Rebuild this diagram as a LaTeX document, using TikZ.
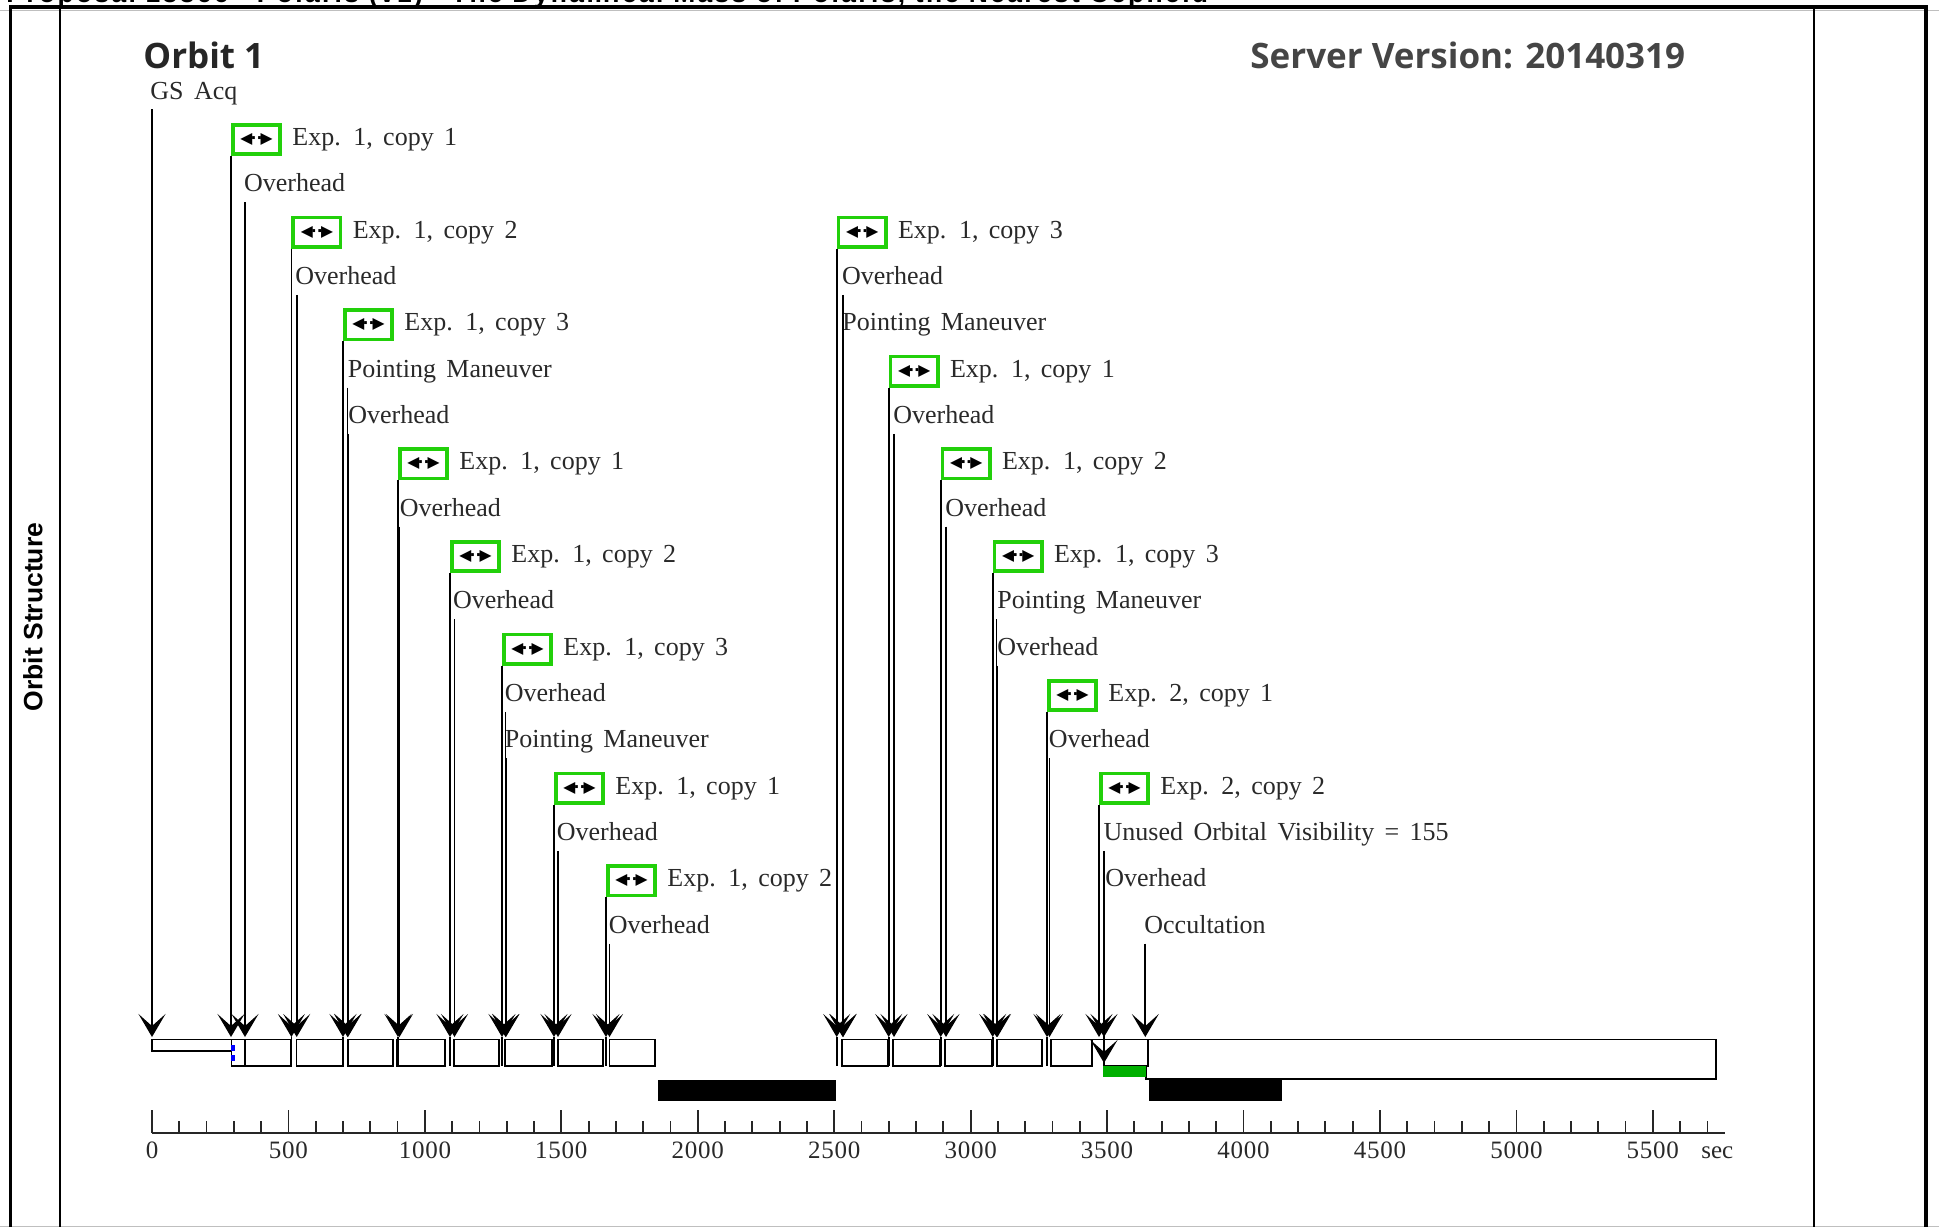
\documentclass[tikz,border=0pt]{standalone}
\usepackage{fontspec}
\setmainfont[WordSpace=1.6]{Liberation Serif}
\newfontfamily\headfont{Open Sans}
\newfontfamily\titlefont[LetterSpace=9]{Liberation Sans}
\newfontfamily\sidefont{Liberation Sans}
\newfontfamily\flagfont{DejaVu Sans}
\newfontfamily\tickfont[LetterSpace=3]{Liberation Serif}
\usetikzlibrary{arrows.meta, positioning}
\definecolor{flaggreen}{RGB}{34,208,10}
\definecolor{bargreen}{RGB}{0,176,0}
\definecolor{labelgray}{gray}{0.16}
\definecolor{headgray}{gray}{0.27}
\newcommand{\flagsym}{\flagfont\fontsize{7.8pt}{8pt}\selectfont\bfseries ◀\kern-.9pt··\kern-.9pt▶}
\begin{document}
\begin{tikzpicture}[
    x=0.5pt, y=-0.5pt,
    lbl/.style={inner sep=0pt, text depth=5pt, text=labelgray, font=\fontsize{13pt}{14pt}\selectfont},
    explbl/.style={lbl, text height=11pt},
    flag/.style={rectangle, draw=flaggreen, line width=1.8pt, inner sep=0pt, minimum width=23.7pt, minimum height=14.7pt, anchor=south west},
    evt/.style={-{Stealth[length=11.5pt,width=13.5pt,inset=6pt]}, line width=0.85pt},
    tlbox/.style={draw, line width=0.9pt},
    ticklbl/.style={inner sep=0pt, text=labelgray, font=\tickfont\fontsize{12.5pt}{13pt}\selectfont}
]
    \useasboundingbox (0,0) rectangle (1939,1227);
    \draw[gray!50] (0,10) -- (1939,10);
    \draw[gray!50] (0,1226.5) -- (1939,1226.5);
    \node[inner sep=0pt, anchor=base west, font=\titlefont\bfseries\fontsize{13.2pt}{14pt}\selectfont] (title) at (6,2) {Proposal 13366 - Polaris (v1) - The Dynamical Mass of Polaris, the Nearest Cepheid};
    \draw[line width=1.75pt] (10.5,1227) -- (10.5,7) -- (1926,7) -- (1926,1227);
    \draw[line width=1pt] (60,7) -- (60,1227);
    \draw[line width=1pt] (1814,7) -- (1814,1227);
    \node[rotate=90, inner sep=0pt, font=\sidefont\bfseries\fontsize{13.25pt}{14pt}\selectfont] (side) at (33,617) {Orbit Structure};
    \node[inner sep=0pt, anchor=base west, text=black!85, font=\headfont\bfseries\fontsize{17.5pt}{18pt}\selectfont] (orbit) at (143,68) {Orbit 1};
    \node[inner sep=0pt, anchor=base west, text=headgray, font=\headfont\bfseries\fontsize{17.5pt}{18pt}\selectfont] (server) at (1250,68) {Server Version: 20140319};

    \coordinate (tipline) at (0,1037);
    \coordinate (tlbottom) at (0,1065.7);

    % time line
    \draw[tlbox] (152,1039.5) rectangle (231.5,1051);
    \draw[tlbox] (231.5,1039.5) rectangle (245,1065.7);
    \draw[tlbox] (245,1039.5) rectangle (291,1065.7);
    \draw[tlbox] (296.5,1039.5) rectangle (343,1065.7);
    \draw[tlbox] (348,1039.5) rectangle (393,1065.7);
    \draw[tlbox] (397.1,1039.5) rectangle (444.9,1065.7);
    \draw[tlbox] (454.3,1039.5) rectangle (498.8,1065.7);
    \draw[tlbox] (505.3,1039.5) rectangle (551.8,1065.7);
    \draw[tlbox] (558,1039.5) rectangle (602.9,1065.7);
    \draw[tlbox] (609.4,1039.5) rectangle (655.1,1065.7);
    \draw[tlbox] (842,1039.5) rectangle (888.3,1065.7);
    \draw[tlbox] (893.3,1039.5) rectangle (940,1065.7);
    \draw[tlbox] (945,1039.5) rectangle (991.7,1065.7);
    \draw[tlbox] (997.3,1039.5) rectangle (1041.7,1065.7);
    \draw[tlbox] (1050.7,1039.5) rectangle (1092,1065.7);
    \draw[tlbox] (1104,1040) -- (1104,1065.7) -- (1148,1065.7) -- (1148,1039.5);
    \draw[tlbox] (1146,1065.7) -- (1146,1079) -- (1716,1079) -- (1716,1039.5) -- (1092,1039.5);
    \fill[bargreen] (1103.3,1066.2) rectangle (1145.6,1077);
    \fill (658,1080) rectangle (835.7,1101);
    \fill (1149.3,1079) rectangle (1282.4,1101);
    \fill[blue] (231.4,1044.5) rectangle (235.4,1050.5);
    \fill[blue] (231.4,1055) rectangle (235.4,1061);

    % first part of the orbit
    \node[lbl, anchor=base west] (gsacq) at (150,99) {GS Acq};
    \coordinate (tipgs) at (152,1037);
    \draw[evt] (tipgs |- gsacq.south) -- (tipgs);

    \node[flag] (flag1) at (231,156) {\flagsym};
    \node[explbl, right=5pt of flag1] (exp1) {Exp. 1, copy 1};
    \node[lbl, anchor=base west] (over1) at (243.7,191.8) {Overhead};
    \coordinate (tip1) at (245,1037);
    \draw[evt] (flag1.south west) -- (flag1.south west |- tipline);
    \draw[evt] (tip1 |- over1.south) -- (tip1);

    \node[flag] (flag2) at (291.4,248.7) {\flagsym};
    \node[explbl, right=5pt of flag2] (exp2) {Exp. 1, copy 2};
    \node[lbl, anchor=base west] (over2) at (295,284.5) {Overhead};
    \coordinate (tip2) at (296.7,1037);
    \draw[evt] (flag2.south west) -- (flag2.south west |- tipline);
    \draw[evt] (tip2 |- over2.south) -- (tip2);

    \node[flag] (flag3) at (343,341.3) {\flagsym};
    \node[explbl, right=5pt of flag3] (exp3) {Exp. 1, copy 3};
    \node[lbl, anchor=base west] (point1) at (347.5,377.2) {Pointing Maneuver};
    \node[lbl, anchor=base west] (over3) at (348,423.5) {Overhead};
    \coordinate (tip3) at (347.5,1037);
    \coordinate (tip4) at (348,1037);
    \draw[evt] (flag3.south west) -- (flag3.south west |- tipline);
    \draw[evt] (tip3 |- point1.south) -- (tip3);
    \draw[evt] (tip4 |- over3.south) -- (tip4);

    \node[flag] (flag4) at (398,480.3) {\flagsym};
    \node[explbl, right=5pt of flag4] (exp4) {Exp. 1, copy 1};
    \node[lbl, anchor=base west] (over4) at (399.5,516.2) {Overhead};
    \coordinate (tip5) at (399.5,1037);
    \draw[evt] (flag4.south west) -- (flag4.south west |- tipline);
    \draw[evt] (tip5 |- over4.south) -- (tip5);

    \node[flag] (flag5) at (450,573) {\flagsym};
    \node[explbl, right=5pt of flag5] (exp5) {Exp. 1, copy 2};
    \node[lbl, anchor=base west] (over5) at (452.6,608.8) {Overhead};
    \coordinate (tip6) at (454.5,1037);
    \draw[evt] (flag5.south west) -- (flag5.south west |- tipline);
    \draw[evt] (tip6 |- over5.south) -- (tip6);

    \node[flag] (flag6) at (502,665.6) {\flagsym};
    \node[explbl, right=5pt of flag6] (exp6) {Exp. 1, copy 3};
    \node[lbl, anchor=base west] (over6) at (504.5,701.5) {Overhead};
    \node[lbl, anchor=base west] (point2) at (504.5,747.8) {Pointing Maneuver};
    \coordinate (tip7) at (505.5,1037);
    \coordinate (tip8) at (506,1037);
    \draw[evt] (flag6.south west) -- (flag6.south west |- tipline);
    \draw[evt] (tip7 |- over6.south) -- (tip7);
    \draw[evt] (tip8 |- point2.south) -- (tip8);

    \node[flag] (flag7) at (554,804.6) {\flagsym};
    \node[explbl, right=5pt of flag7] (exp7) {Exp. 1, copy 1};
    \node[lbl, anchor=base west] (over7) at (556.5,840.5) {Overhead};
    \coordinate (tip9) at (558,1037);
    \draw[evt] (flag7.south west) -- (flag7.south west |- tipline);
    \draw[evt] (tip9 |- over7.south) -- (tip9);

    \node[flag] (flag8) at (606,897.3) {\flagsym};
    \node[explbl, right=5pt of flag8] (exp8) {Exp. 1, copy 2};
    \node[lbl, anchor=base west] (over8) at (608.5,933.1) {Overhead};
    \coordinate (tip10) at (609.5,1037);
    \draw[evt] (flag8.south west) -- (flag8.south west |- tipline);
    \draw[evt] (tip10 |- over8.south) -- (tip10);

    % second part of the orbit
    \node[flag] (flag9) at (836.7,248.7) {\flagsym};
    \node[explbl, right=5pt of flag9] (exp9) {Exp. 1, copy 3};
    \node[lbl, anchor=base west] (over9) at (841.7,284.5) {Overhead};
    \node[lbl, anchor=base west] (point3) at (842,330.8) {Pointing Maneuver};
    \coordinate (tip11) at (842.7,1037);
    \coordinate (tip12) at (843.2,1037);
    \draw[evt] (flag9.south west) -- (flag9.south west |- tipline);
    \draw[evt] (tip11 |- over9.south) -- (tip11);
    \draw[evt] (tip12 |- point3.south) -- (tip12);

    \node[flag] (flag10) at (888.7,387.7) {\flagsym};
    \node[explbl, right=5pt of flag10] (exp10) {Exp. 1, copy 1};
    \node[lbl, anchor=base west] (over10) at (893,423.5) {Overhead};
    \coordinate (tip13) at (894,1037);
    \draw[evt] (flag10.south west) -- (flag10.south west |- tipline);
    \draw[evt] (tip13 |- over10.south) -- (tip13);

    \node[flag] (flag11) at (940.7,480.3) {\flagsym};
    \node[explbl, right=5pt of flag11] (exp11) {Exp. 1, copy 2};
    \node[lbl, anchor=base west] (over11) at (945,516.2) {Overhead};
    \coordinate (tip14) at (946,1037);
    \draw[evt] (flag11.south west) -- (flag11.south west |- tipline);
    \draw[evt] (tip14 |- over11.south) -- (tip14);

    \node[flag] (flag12) at (992.7,573) {\flagsym};
    \node[explbl, right=5pt of flag12] (exp12) {Exp. 1, copy 3};
    \node[lbl, anchor=base west] (point4) at (997,608.8) {Pointing Maneuver};
    \node[lbl, anchor=base west] (over12) at (997,655.1) {Overhead};
    \coordinate (tip15) at (996.5,1037);
    \coordinate (tip16) at (997.5,1037);
    \draw[evt] (flag12.south west) -- (flag12.south west |- tipline);
    \draw[evt] (tip15 |- point4.south) -- (tip15);
    \draw[evt] (tip16 |- over12.south) -- (tip16);

    \node[flag] (flag13) at (1047,712) {\flagsym};
    \node[explbl, right=5pt of flag13] (exp13) {Exp. 2, copy 1};
    \node[lbl, anchor=base west] (over13) at (1048.5,747.8) {Overhead};
    \coordinate (tip17) at (1049.5,1037);
    \draw[evt] (flag13.south west) -- (flag13.south west |- tipline);
    \draw[evt] (tip17 |- over13.south) -- (tip17);

    \node[flag] (flag14) at (1099,804.6) {\flagsym};
    \node[explbl, right=5pt of flag14] (exp14) {Exp. 2, copy 2};
    \node[lbl, anchor=base west] (unused) at (1103.3,840.5) {Unused Orbital Visibility = 155};
    \node[lbl, anchor=base west] (over14) at (1105,886.8) {Overhead};
    \node[lbl, anchor=base west] (occult) at (1144,933.1) {Occultation};
    \coordinate (tip18) at (1104,1037);
    \coordinate (tip19) at (1104,1063);
    \coordinate (tip20) at (1145.3,1037);
    \draw[evt] (flag14.south west) -- (flag14.south west |- tipline);
    \draw[evt] (tip18 |- unused.south) -- (tip18);
    \draw[evt] (tip19 |- over14.south) -- (tip19);
    \draw[evt] (tip20 |- occult.south) -- (tip20);

    % lines under the flags, down through the time line
    \foreach \n in {2,...,13}
        \draw[tlbox] (flag\n.south west |- tipline) -- (flag\n.south west |- tlbottom);

    % scale in seconds
    \draw[line width=0.9pt, black!85] (152,1133) -- (1725,1133);
    \foreach \m in {1,...,57}
        \draw[line width=0.9pt, black!85] (152+27.288*\m,1133) -- (152+27.288*\m,1121);
    \foreach \m [count=\c] in {0,500,1000,1500,2000,2500,3000,3500,4000,4500,5000,5500} {
        \draw[line width=0.9pt, black!85] (152+136.44*\c-136.44,1133) -- (152+136.44*\c-136.44,1110);
        \node[ticklbl, anchor=base] (tick\m) at (152+136.44*\c-136.44,1158) {\m};
    }
    \node[ticklbl, anchor=base west] (sec) at (1701,1158) {\addfontfeature{LetterSpace=0}sec};
\end{tikzpicture}
\end{document}
